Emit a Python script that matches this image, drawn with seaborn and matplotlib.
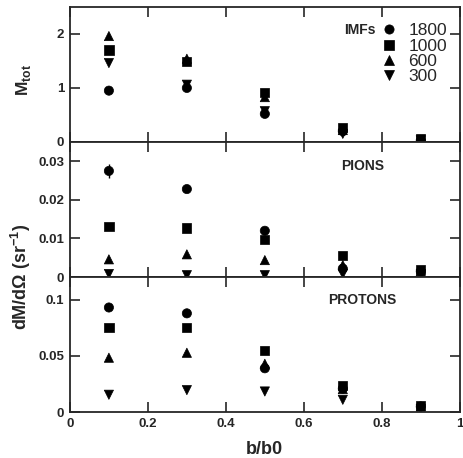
import matplotlib
matplotlib.use("Agg")
import matplotlib.pyplot as plt
import seaborn as sns
import pandas as pd

# impact parameter bins
b = [0.1, 0.3, 0.5, 0.7, 0.9]
energies = ["1800", "1000", "600", "300"]

# total IMF multiplicity
imf = {
    "1800": [0.95, 1.00, 0.52, 0.20, 0.03],
    "1000": [1.70, 1.49, 0.92, 0.27, 0.055],
    "600": [1.96, 1.54, 0.83, 0.22, 0.04],
    "300": [1.46, 1.06, 0.57, 0.15, 0.03],
}
# pion dM/dOmega
pions = {
    "1800": [0.0275, 0.0228, 0.0120, 0.0022, 0.0015],
    "1000": [0.0131, 0.0127, 0.0097, 0.0056, 0.0020],
    "600": [0.0046, 0.0059, 0.0044, 0.0031, 0.0015],
    "300": [0.0008, 0.0005, 0.0005, 0.0008, 0.0008],
}
pion_err_1800 = [0.0019, 0, 0, 0, 0]
# proton dM/dOmega
protons = {
    "1800": [0.093, 0.0878, 0.039, 0.021, 0.005],
    "1000": [0.0754, 0.0754, 0.0546, 0.024, 0.0062],
    "600": [0.0484, 0.0528, 0.043, 0.0205, 0.005],
    "300": [0.0155, 0.0196, 0.0184, 0.011, 0.003],
}

markers = {"1800": "o", "1000": "s", "600": "^", "300": "v"}


def long_df(d):
    rows = []
    for e in energies:
        for x, y in zip(b, d[e]):
            rows.append({"b": x, "val": y, "E": e})
    return pd.DataFrame(rows)


sns.set_style("ticks")
plt.rcParams["font.family"] = ["Liberation Sans", "DejaVu Sans"]
plt.rcParams["mathtext.fontset"] = "custom"
plt.rcParams["mathtext.rm"] = "Liberation Sans:bold"
plt.rcParams["mathtext.bf"] = "Liberation Sans:bold"

fig, axes = plt.subplots(3, 1, figsize=(4.63, 4.58), dpi=100, sharex=True)
fig.subplots_adjust(left=0.151, right=0.993, top=0.985, bottom=0.100, hspace=0)

panels = [(imf, (0, 2.5), [0, 1, 2], ["0", "1", "2"], "IMFs"),
          (pions, (0, 0.035), [0, 0.01, 0.02, 0.03], ["0", "0.01", "0.02", "0.03"], "PIONS"),
          (protons, (0, 0.12), [0, 0.05, 0.1], ["0", "0.05", "0.1"], "PROTONS")]

for i, (ax, (data, ylim, yt, ytl, name)) in enumerate(zip(axes, panels)):
    df = long_df(data)
    sns.scatterplot(data=df, x="b", y="val", style="E", markers=markers,
                    style_order=energies, color="black", s=44, edgecolor="black",
                    linewidth=0.5, ax=ax, legend=(i == 0))
    ax.set_ylim(*ylim)
    ax.set_xlim(0, 1)
    ax.set_yticks(yt)
    ax.set_yticklabels(ytl)
    ax.set_ylabel("")
    ax.set_xlabel("")
    ax.tick_params(direction="in", length=7, width=1.2, top=True, right=True,
                   labelsize=9.5, pad=4)
    for lab in ax.get_yticklabels() + ax.get_xticklabels():
        lab.set_fontweight("bold")
    for sp in ax.spines.values():
        sp.set_linewidth(1.3)

# legend and species labels
h, l = axes[0].get_legend_handles_labels()
axes[0].legend(h, l, loc="upper right", bbox_to_anchor=(0.985, 0.93),
               frameon=False, fontsize=12.5, handletextpad=0.1,
               labelspacing=0.0, borderaxespad=0)
axes[0].text(0.745, 0.83, "IMFs", transform=axes[0].transAxes, fontsize=10,
             fontweight="bold", ha="center", va="center")
axes[1].text(0.75, 0.82, "PIONS", transform=axes[1].transAxes, fontsize=10,
             fontweight="bold", ha="center", va="center")
axes[2].text(0.75, 0.83, "PROTONS", transform=axes[2].transAxes, fontsize=10,
             fontweight="bold", ha="center", va="center")

axes[1].errorbar([b[0]], [pions["1800"][0]], yerr=[pion_err_1800[0]],
                 fmt="none", ecolor="black", elinewidth=1, capsize=0)

axes[2].set_xticks([0, 0.2, 0.4, 0.6, 0.8, 1])
axes[2].set_xticklabels(["0", "0.2", "0.4", "0.6", "0.8", "1"])
for lab in axes[2].get_xticklabels():
    lab.set_fontweight("bold")
axes[2].set_xlabel("b/b0", fontsize=13, fontweight="bold", labelpad=8)

fig.text(0.05, 0.825, r"M$_{\rm tot}$", rotation=90, fontsize=12.5,
         fontweight="bold", ha="center", va="center")
fig.text(0.046, 0.395, r"dM/d$\Omega$ (sr$^{-1}$)", rotation=90, fontsize=13,
         fontweight="bold", ha="center", va="center")

fig.savefig("out.png", dpi=100)
